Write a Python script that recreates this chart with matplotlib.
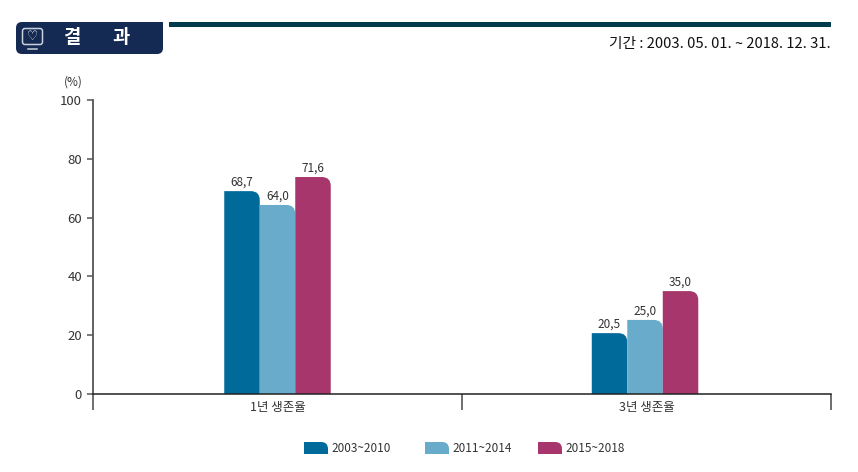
import matplotlib
matplotlib.use("Agg")
import matplotlib.pyplot as plt
from matplotlib.patches import PathPatch, FancyBboxPatch, Rectangle
from matplotlib.path import Path

plt.rcParams['font.family'] = ['Noto Sans CJK KR', 'DejaVu Sans']

# data
categories = ["1년 생존율", "3년 생존율"]
periods = ["2003~2010", "2011~2014", "2015~2018"]
# drawn bar heights, the 71,6 bar is drawn taller than its label says
values_a = [69.0, 20.7]
values_b = [64.3, 25.2]
values_c = [73.8, 35.0]
labels_a = ["68,7", "20,5"]
labels_b = ["64,0", "25,0"]
labels_c = ["71,6", "35,0"]
yticks = [0, 20, 40, 60, 80, 100]

colors = ["#006a9b", "#68abcb", "#a6366b"]
text_col = "#333333"
W, H = 858, 472


def round_top(x0, x1, y0, y1, rx, ry):
    # box with the top right corner rounded
    verts = [(x0, y0), (x0, y1), (x1 - rx, y1), (x1, y1), (x1, y1 - ry), (x1, y0), (x0, y0)]
    codes = [Path.MOVETO, Path.LINETO, Path.LINETO, Path.CURVE3, Path.CURVE3, Path.LINETO, Path.CLOSEPOLY]
    return Path(verts, codes)


fig = plt.figure(figsize=(W / 100, H / 100), dpi=100)
ax = fig.add_axes([93 / W, (H - 394) / H, (831 - 93) / W, (394 - 100) / H])
ax.set_xlim(0, 2)
ax.set_ylim(0, 100)

# bars
bar_w = 35.5 / 369
rx = 9 / 369
ry = 9 / 2.94
group_x = [0.5, 1.496]
series = [(values_a, labels_a), (values_b, labels_b), (values_c, labels_c)]
for i, (vals, labs) in enumerate(series):
    for j, v in enumerate(vals):
        x0 = group_x[j] + (i - 1.5) * bar_w
        ax.add_patch(PathPatch(round_top(x0, x0 + bar_w, 0, v, rx, ry), fc=colors[i], ec="none"))
        ax.text(x0 + bar_w / 2, v + 0.8, labs[j], ha="center", va="bottom", fontsize=8.5, color=text_col)

# axes
for s in ["top", "right"]:
    ax.spines[s].set_visible(False)
ax.spines["left"].set_color("#555555")
ax.spines["left"].set_linewidth(1.3)
ax.spines["bottom"].set_color("#222222")
ax.spines["bottom"].set_linewidth(1.1)
ax.set_yticks(yticks)
ax.tick_params(axis="y", length=4, width=1.1, color="#555555", labelsize=9.5, labelcolor=text_col, pad=4)
ax.set_xticks([0, 1, 2])
ax.set_xticklabels([])
ax.tick_params(axis="x", length=11.5, width=1.2, color="#555555")
ax.set_xticks([0.5, 1.5], minor=True)
ax.set_xticklabels(categories, minor=True)
ax.tick_params(axis="x", which="minor", length=0, labelsize=9, labelcolor=text_col, pad=5)

# overlay in pixels for the header and legend
ov = fig.add_axes([0, 0, 1, 1], zorder=5)
ov.set_xlim(0, W)
ov.set_ylim(H, 0)
ov.axis("off")

ov.text(73, 82, "(%)", ha="center", va="center", fontsize=8.5, color=text_col)

# header
navy = "#152a52"
ov.add_patch(FancyBboxPatch((16, 22), 147, 32, boxstyle="round,pad=0,rounding_size=6", fc=navy, ec="none"))
ov.add_patch(Rectangle((150, 22), 13, 12, fc=navy, ec="none"))
ov.add_patch(FancyBboxPatch((22.5, 28.5), 20, 16, boxstyle="round,pad=0,rounding_size=2.5", fc="none", ec="#c8d0dc", lw=1.1))
ov.plot([28, 37], [48.5, 48.5], color="#c8d0dc", lw=1.1)
ov.text(32.5, 36.5, "♡", ha="center", va="center", fontsize=9, fontweight="bold", color="white", family="DejaVu Sans")
ov.text(71.5, 37.5, "결", ha="center", va="center", fontsize=13.5, fontweight="bold", color="white")
ov.text(120.5, 37.5, "과", ha="center", va="center", fontsize=13.5, fontweight="bold", color="white")
ov.add_patch(Rectangle((169, 22), 662, 5, fc="#003a4d", ec="none"))
ov.text(831, 44, "기간 : 2003. 05. 01. ~ 2018. 12. 31.", ha="right", va="center", fontsize=10.6, color="#111111")

# legend
leg_x = [304, 425, 538]
for c, lab, x in zip(colors, periods, leg_x):
    ov.add_patch(PathPatch(round_top(x, x + 24, 454, 442, 7, -7), fc=c, ec="none"))
    ov.text(x + 27, 448.5, lab, ha="left", va="center", fontsize=8.5, color=text_col)

fig.savefig("out.png", dpi=100)
